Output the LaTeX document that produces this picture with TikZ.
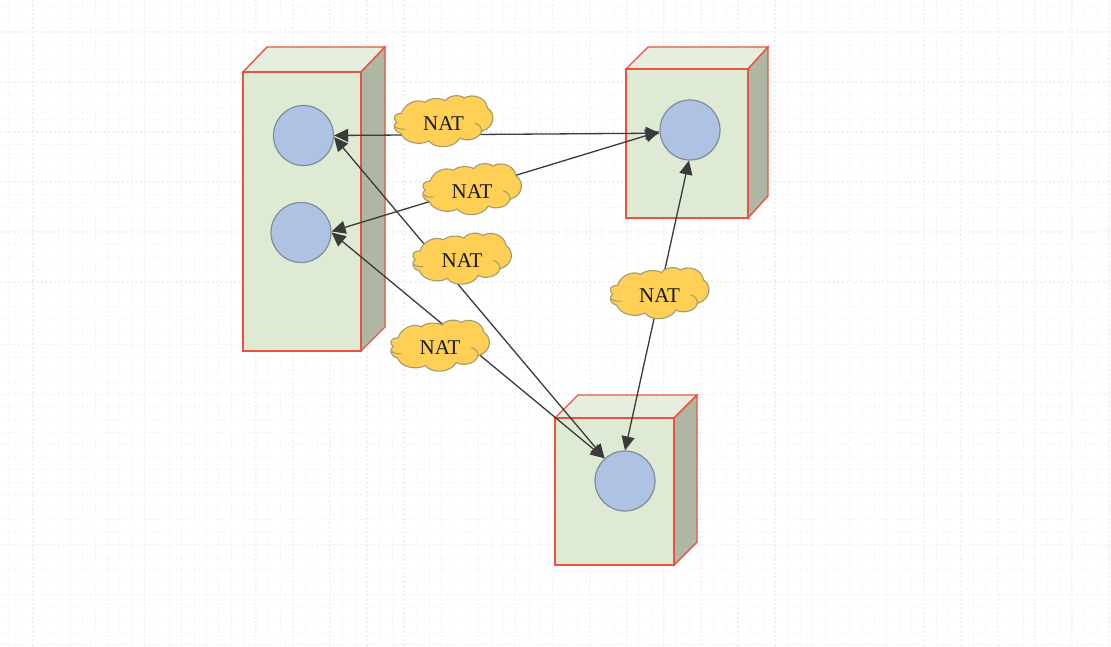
\documentclass[tikz,border=0pt]{standalone}
\usepackage{fontspec}
\setmainfont{Liberation Serif}
\usetikzlibrary{arrows.meta}
\definecolor{gridc}{HTML}{F3F5FB}
\definecolor{gridm}{HTML}{EDF0F9}
\definecolor{frontc}{HTML}{DFEAD5}
\definecolor{topc}{HTML}{E6EFDF}
\definecolor{sidec}{HTML}{AEB7A3}
\definecolor{redc}{HTML}{E8543F}
\definecolor{bluec}{HTML}{AEC3E3}
\definecolor{bluel}{HTML}{808C98}
\definecolor{cloudc}{HTML}{FFCF56}
\definecolor{cloudl}{HTML}{A39B70}
\definecolor{linkc}{HTML}{3A3A3A}
\tikzset{
  hole/.style={circle,draw=bluel,fill=bluec,line width=1.2pt,minimum size=60pt,inner sep=0pt},
  natshape/.style={draw=cloudl,fill=cloudc,line width=1.1pt},
  nathook/.style={draw=cloudl,line width=1pt},
  nattext/.style={inner sep=0pt,font=\fontsize{21}{23}\selectfont,text=black!90},
  link/.style={draw=linkc,line width=1.3pt,{Triangle[length=14pt,width=13pt,fill=linkc]}-{Triangle[length=14pt,width=13pt,fill=linkc]}},
  boxf/.style={draw=redc,line width=1.4pt,line join=miter},
}
\newcommand{\natcloud}[3]{%
  \begin{scope}[shift={(#2,#3)},scale=1/3,shift={(-176,-93)}]
    \path[natshape] (50,70) .. controls (58,42) and (95,24) .. (120,37)
      .. controls (135,24) and (165,22) .. (182,32)
      .. controls (190,16) and (225,12) .. (238,24)
      .. controls (262,10) and (303,20) .. (308,54)
      .. controls (332,68) and (332,112) .. (290,124)
      .. controls (283,150) and (242,155) .. (225,144)
      .. controls (208,176) and (150,178) .. (132,153)
      .. controls (105,168) and (58,158) .. (48,130)
      .. controls (26,124) and (22,104) .. (36,96)
      .. controls (20,84) and (32,68) .. (50,70) -- cycle;
    \path[nathook] (290,124) .. controls (291,112) and (282,102) .. (270,99);
    \path[nathook] (30,110) .. controls (38,117) and (50,119) .. (60,117);
  \end{scope}
  \node[nattext] (#1) at (#2,#3+2.5) {NAT};
}
\begin{document}
\begin{tikzpicture}[x=1pt,y=-1pt]
\useasboundingbox (0,0) rectangle (1111,647);
\fill[white] (0,0) rectangle (1111,647);
% background grid
\foreach \i in {0,...,90}{
  \draw[gridc,line width=.7pt,dash pattern=on 2pt off 2.5pt] ({8.5+12.37*\i},0) -- ({8.5+12.37*\i},647);
}
\foreach \i in {0,...,52}{
  \draw[gridc,line width=.7pt,dash pattern=on 2pt off 2.5pt] (0,{7+12.5*\i}) -- (1111,{7+12.5*\i});
}
\foreach \i in {0,...,29}{
  \draw[gridm,line width=1.2pt,dash pattern=on 2pt off 2.5pt] ({33+37.1*\i},0) -- ({33+37.1*\i},647);
}
\foreach \y in {32,82,132,182,232,282,344.5,394.5,444.5,494.5,544.5,594.5,644.5}{
  \draw[gridm,line width=1.2pt,dash pattern=on 2pt off 2.5pt] (0,\y) -- (1111,\y);
}
% box 1
\draw[boxf,fill=topc] (243,72) -- (267,47) -- (385,47) -- (361,72) -- cycle;
\draw[boxf,fill=sidec] (361,72) -- (385,47) -- (385,327) -- (361,351) -- cycle;
\draw[boxf,fill=frontc] (243,72) rectangle (361,351);
% box 2
\draw[boxf,fill=topc] (626,69) -- (648,47) -- (768,47) -- (748,69) -- cycle;
\draw[boxf,fill=sidec] (748,69) -- (768,47) -- (768,196) -- (748,218) -- cycle;
\draw[boxf,fill=frontc] (626,69) rectangle (748,218);
% box 3
\draw[boxf,fill=topc] (555,418) -- (578,395) -- (697,395) -- (674,418) -- cycle;
\draw[boxf,fill=sidec] (674,418) -- (697,395) -- (697,542) -- (674,565) -- cycle;
\draw[boxf,fill=frontc] (555,418) rectangle (674,565);
% holes
\node[hole] (a1) at (303.5,135.5) {};
\node[hole] (a2) at (301,232.5) {};
\node[hole] (b) at (690,130) {};
\node[hole] (c) at (625,481) {};
% links
\draw[link] (a1.0) -- (b.186);
\draw[link] (a2.2) -- (b.183);
\draw[link] (a1.-3) -- (c.132);
\draw[link] (a2.0) -- (c.132);
\draw[link] (b.-92) -- (c.90);
% clouds
\natcloud{n1}{443.5}{121}
\natcloud{n2}{472}{189}
\natcloud{n3}{462}{258.5}
\natcloud{n4}{440}{345.5}
\natcloud{n5}{659.5}{293}
\end{tikzpicture}
\end{document}
